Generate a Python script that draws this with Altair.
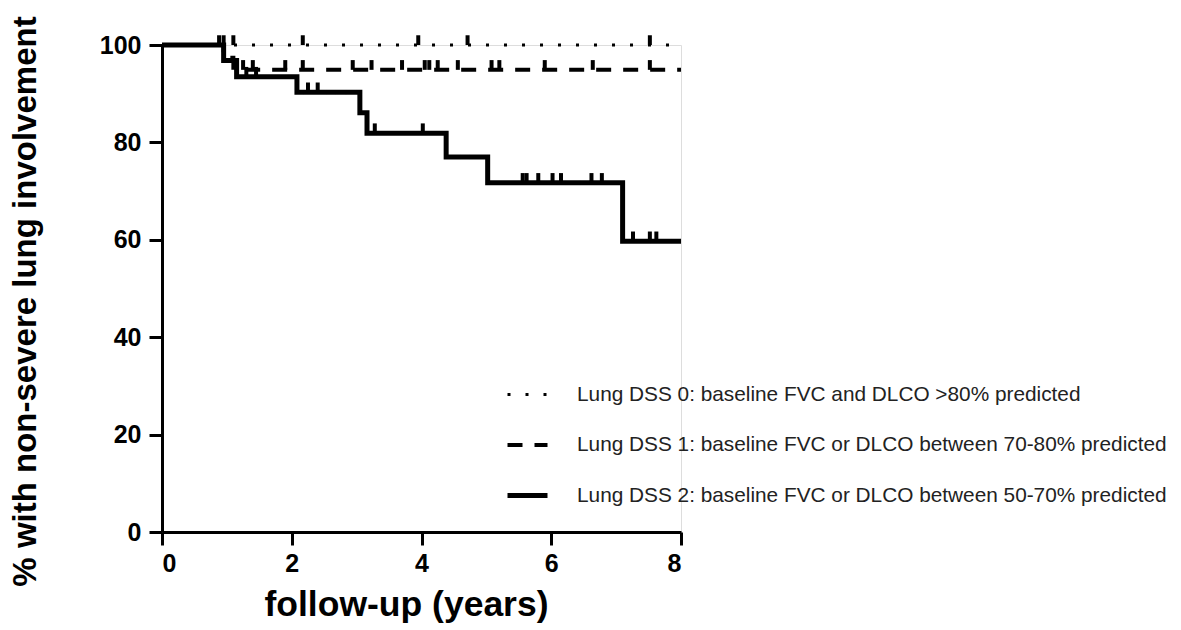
import altair as alt
import pandas as pd

series_names = [
    "Lung DSS 0: baseline FVC and DLCO >80% predicted",
    "Lung DSS 1: baseline FVC or DLCO between 70-80% predicted",
    "Lung DSS 2: baseline FVC or DLCO between 50-70% predicted",
]

# step curves (time in years, % event-free)
dss0_t = [0, 8]
dss0_s = [100, 100]
dss1_t = [0, 0.95, 1.1, 8]
dss1_s = [100, 97.4, 94.9, 94.9]
dss2_t = [0, 0.95, 1.15, 2.08, 3.05, 3.16, 4.38, 5.02, 7.1, 8]
dss2_s = [100, 96.8, 93.5, 90.3, 86.1, 81.9, 77.0, 71.7, 59.7, 59.7]

# censoring times
dss0_cens = [0.88, 0.95, 1.1, 2.17, 3.95, 4.71, 7.52]
dss1_cens = [1.25, 1.4, 1.9, 2.17, 2.94, 3.23, 3.7, 4.05, 4.12, 4.25, 4.56,
             5.08, 5.2, 5.9, 6.64, 7.52]
dss2_cens = [1.3, 1.45, 2.25, 2.4, 3.28, 4.02, 5.56, 5.62, 5.8, 6.02, 6.15,
             6.62, 6.78, 7.26, 7.52, 7.62]

curves = [(dss0_t, dss0_s, dss0_cens), (dss1_t, dss1_s, dss1_cens),
          (dss2_t, dss2_s, dss2_cens)]


def step_value(ts, ss, t):
    v = ss[0]
    for ti, si in zip(ts, ss):
        if ti <= t:
            v = si
    return v


line_rows = []
cens_rows = []
for name, (ts, ss, cs) in zip(series_names, curves):
    for t, s in zip(ts, ss):
        line_rows.append({"series": name, "t": t, "s": s})
    for c in cs:
        cens_rows.append({"series": name, "t": c, "s": step_value(ts, ss, c)})

lines_df = pd.DataFrame(line_rows)
cens_df = pd.DataFrame(cens_rows)

FONT = "Liberation Sans"

xscale = alt.Scale(domain=[0, 8], nice=False, zero=True)
yscale = alt.Scale(domain=[0, 100], nice=False)

x_enc = alt.X(
    "t:Q", scale=xscale, title="follow-up (years)",
    axis=alt.Axis(values=[0, 2, 4, 6, 8], format="d", grid=False,
                  labelFontSize=25, labelFontWeight="bold", labelFont=FONT,
                  labelColor="#000", titleFontSize=35.5, titleFontWeight="bold",
                  titleFont=FONT, titleColor="#000", titlePadding=11,
                  titleX=244,
                  domainColor="#000", domainWidth=3, tickColor="#000",
                  tickWidth=3, tickSize=13, labelPadding=6),
)
y_enc = alt.Y(
    "s:Q", scale=yscale, title="% with non-severe lung involvement",
    axis=alt.Axis(values=[0, 20, 40, 60, 80, 100], grid=False,
                  labelFontSize=25, labelFontWeight="bold", labelFont=FONT,
                  labelColor="#000", titleFontSize=33, titleFontWeight="bold",
                  titleFont=FONT, titleColor="#000", titlePadding=57,
                  titleY=256,
                  domainColor="#000", domainWidth=3, tickColor="#000",
                  tickWidth=3, tickSize=13, labelPadding=8),
)

legend_cfg = dict(
    title=None, orient="none", legendX=343, legendY=328,
    symbolType="stroke", symbolSize=1600, symbolStrokeColor="#000",
    labelFontSize=20.8, labelFont=FONT, labelColor="#222", labelLimit=0,
    labelOffset=27, rowPadding=18, padding=0,
)

lines = alt.Chart(lines_df).mark_line(
    interpolate="step-after", color="#000", strokeCap="butt"
).encode(
    x=x_enc,
    y=y_enc,
    strokeDash=alt.StrokeDash(
        "series:N",
        scale=alt.Scale(domain=series_names,
                        range=[[3, 15], [15, 12], [1, 0]]),
        legend=alt.Legend(**legend_cfg),
    ),
    strokeWidth=alt.StrokeWidth(
        "series:N",
        scale=alt.Scale(domain=series_names, range=[3, 5, 5]),
        legend=alt.Legend(**legend_cfg),
    ),
    detail="series:N",
)

ticks = alt.Chart(cens_df).transform_calculate(
    s_top="datum.s + 2.0"
).mark_rule(color="#000", strokeWidth=4).encode(
    x=alt.X("t:Q", scale=xscale),
    y=alt.Y("s:Q", scale=yscale),
    y2="s_top:Q",
)

chart = alt.layer(lines, ticks).properties(
    width=519, height=487,
    autosize=alt.AutoSizeParams(type="none"),
    padding={"left": 162, "top": 45, "right": 500, "bottom": 98},
).configure_view(stroke=None).configure(background="white")

chart.save("out.html", embed_options={"renderer": "svg", "actions": False})
